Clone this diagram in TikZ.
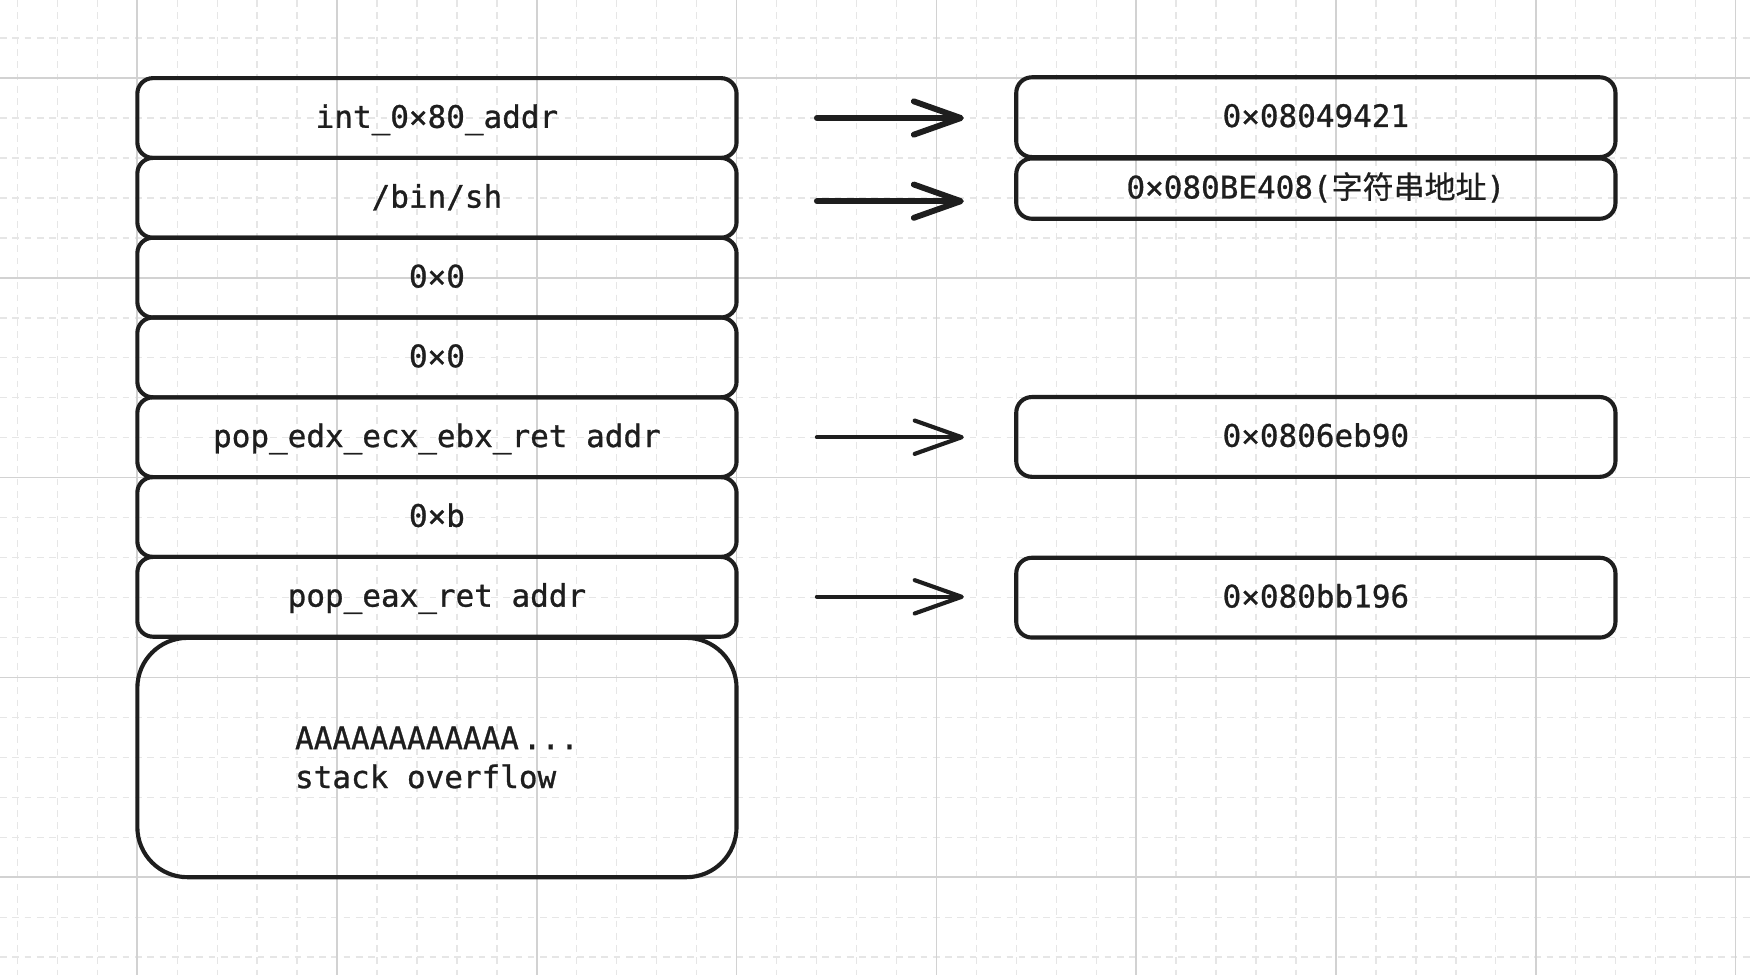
\documentclass[tikz,border=0pt]{standalone}
\usepackage{fontspec}
\usepackage{xcolor}
\usetikzlibrary{arrows.meta, positioning, calc}
\newfontfamily\codefont{DejaVu Sans Mono}[FakeBold=0.9]
\newfontfamily\cjk{Noto Sans CJK SC}[FakeBold=0.6]
\definecolor{ink}{HTML}{1E1E1E}
\definecolor{gridmajor}{HTML}{D2D2D2}
\definecolor{gridminor}{HTML}{E6E6E6}

\begin{document}
\begin{tikzpicture}[x=0.02cm, y=-0.02cm,
    cell/.style={draw=ink, line width=2.1pt, rounded corners=0.28cm,
        minimum width=10.74cm, minimum height=1.43cm, inner sep=0pt, outer sep=0pt,
        text=ink, font=\codefont\fontsize{15.8}{19.8}\selectfont,
        text height=1.0em, text depth=0pt},
    ptr/.style={draw=ink, line width=2.1pt, line cap=round,
        -{Straight Barb[length=24pt, width=17pt, round]},
        shorten <=1.44cm, shorten >=0.94cm}]
\useasboundingbox (0,0) rectangle (1568,874);
\fill[white] (0,0) rectangle (1568,874);

% background grid
\foreach \x in {15.6,51.4,...,1568}
    \draw[gridminor, line width=0.7pt, dash pattern=on 0.12cm off 0.1cm] (\x,0) -- (\x,874);
\foreach \y in {34.2,70,...,874}
    \draw[gridminor, line width=0.7pt, dash pattern=on 0.12cm off 0.1cm] (0,\y) -- (1568,\y);
\foreach \x in {123,302,...,1556}
    \draw[gridmajor, line width=0.8pt] (\x,0) -- (\x,874);
\foreach \y in {70,249,...,786}
    \draw[gridmajor, line width=0.8pt] (0,\y) -- (1568,\y);

% stack frame
\foreach \i/\txt in {1/int\_0×80\_addr, 2/{/bin/sh}, 3/0×0, 4/0×0,
        5/pop\_edx\_ecx\_ebx\_ret addr, 6/0×b, 7/pop\_eax\_ret addr} {
    \node[cell] (s\i) at (391.5,{34.25+71.5*\i}) {\txt};
}
\node[cell, minimum height=4.29cm, rounded corners=0.9cm, align=left,
    text height=, text depth=]
    (s8) at (391.5,678.75) {AAAAAAAAAAAA\kern2pt...\\stack overflow};

% values
\node[cell] (r1) at (1179,105) {0×08049421};
\node[cell, minimum height=1.08cm] (r2) at (1179,169) {0×080BE408({\cjk 字符串地址})};
\node[cell] (r3) at (1179,391.5) {0×0806eb90};
\node[cell] (r4) at (1179,535.5) {0×080bb196};

% pointers
\draw[ptr, line width=3pt] (s1.east) -- (s1.east -| r1.west);
\draw[ptr, line width=3pt] ([yshift=-0.06cm]s2.east) -- ([yshift=-0.06cm]s2.east -| r2.west);
\draw[ptr] (s5.east) -- (s5.east -| r3.west);
\draw[ptr] (s7.east) -- (s7.east -| r4.west);
\end{tikzpicture}
\end{document}
